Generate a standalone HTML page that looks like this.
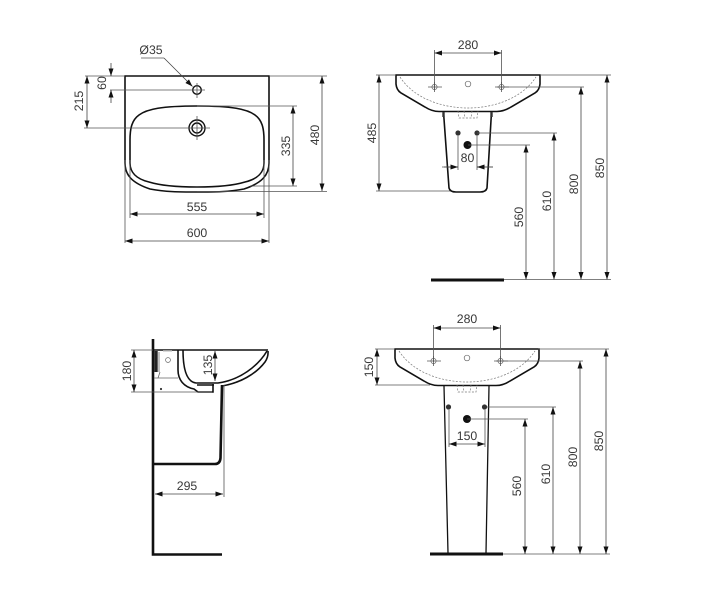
<!DOCTYPE html>
<html>
<head>
<meta charset="utf-8">
<style>
html,body{margin:0;padding:0;background:#fff;width:721px;height:600px;overflow:hidden}
svg{display:block;filter:blur(.3px)}
text{font-family:"Liberation Sans",sans-serif;font-size:12.3px;fill:#3a3a3a;text-anchor:middle;text-rendering:geometricPrecision}
.t{fill:none;stroke:#555;stroke-width:.8}
.d{fill:none;stroke:#444;stroke-width:.8;marker-start:url(#a);marker-end:url(#a)}
.m{fill:none;stroke:#444;stroke-width:.8;marker-end:url(#e)}
.o{fill:none;stroke:#111;stroke-width:1.6}
.h{fill:none;stroke:#111;stroke-width:2.6}
.s{fill:none;stroke:#777;stroke-width:.7;stroke-dasharray:2 1.5}
.c{fill:#333}
</style>
</head>
<body>
<svg width="721" height="600" viewBox="0 0 721 600" xmlns="http://www.w3.org/2000/svg">
<defs>
<marker id="a" markerUnits="userSpaceOnUse" markerWidth="9" markerHeight="7" refX="7.500" refY="3.500" orient="auto-start-reverse"><path d="M0 1L7.500 3.500L0 6Z" fill="#111"/></marker>
<marker id="e" markerUnits="userSpaceOnUse" markerWidth="9" markerHeight="7" refX="7.500" refY="3.500" orient="auto"><path d="M0 1L7.500 3.500L0 6Z" fill="#111"/></marker>
<g id="basin">
<path class="o" d="M396 75H540V84Q539.500 90 535 93L511 107Q504 111.500 497 111.500H439Q432 111.500 425 107L401 93Q396.500 90 396 84Z"/>
<path class="s" d="M400 77C415 100 445 108 468 108C491 108 521 100 536 77"/>
<path class="s" d="M458 111L459 118H477L478 111M464 111L465 118M472 111L471 118"/>
<circle cx="468" cy="84" r="2.800" fill="none" stroke="#666" stroke-width=".7"/>
<circle cx="434.500" cy="87" r="2.600" fill="none" stroke="#666" stroke-width=".7"/>
<circle cx="501.500" cy="87" r="2.600" fill="none" stroke="#666" stroke-width=".7"/>
<path class="t" d="M428 87H442M495 87H509M434.500 82V92M501.500 82V92"/>
</g>
</defs>

<!-- Top view -->
<path class="o" d="M125 76H269V163C269 175 262 183 244 189C229 192 214 192 197 192C180 192 165 192 150 189C132 183 125 175 125 163Z"/>
<path class="o" stroke-width="1.300" d="M197 106C232 106 247 109 255 115C262 120 264 128 264 140V163C264 172 258 179 245 182C232 186 215 187 197 187C179 187 162 186 149 182C136 179 130 172 130 163V140C130 128 132 120 139 115C147 109 162 106 197 106Z"/>
<circle cx="197" cy="90" r="4.300" fill="#fff" stroke="#111" stroke-width="1.400"/>
<circle cx="197" cy="128" r="8" fill="none" stroke="#111" stroke-width="1.400"/>
<circle cx="197" cy="128" r="5" fill="none" stroke="#111" stroke-width="1.400"/>
<path class="t" d="M85 76H125M110 90H205M197 83V98M84 128H210M197 116V140M197 106H297M250 186H297M269 76H327M197 191.500H327M130 160V218M264 160V218M125 160V243M269 160V243M141 58H164"/>
<path class="m" d="M164 58L192.500 86.500"/>
<path class="m" d="M111 63V76"/>
<path class="m" d="M111 103V90"/>
<path class="d" d="M87 76V128"/>
<path class="d" d="M293 106V186"/>
<path class="d" d="M322 76V191"/>
<path class="d" d="M130 214H264"/>
<path class="d" d="M125 241H269"/>
<text x="151" y="54">Ø35</text>
<text x="197" y="211">555</text>
<text x="197" y="237">600</text>
<text transform="translate(106,83) rotate(-90)">60</text>
<text transform="translate(83,101) rotate(-90)">215</text>
<text transform="translate(290,146) rotate(-90)">335</text>
<text transform="translate(319,135) rotate(-90)">480</text>

<!-- Front, semi-pedestal -->
<use href="#basin"/>
<path class="o" d="M443.500 112L449 188Q450 192 456 192H480Q486 192 487 188L491.500 112"/>
<path d="M443.500 112V117M491.500 112V117" stroke="#333" stroke-width="2.400" fill="none"/>
<circle class="c" cx="458" cy="133" r="2.600"/><circle class="c" cx="477" cy="133" r="2.600"/><circle fill="#111" cx="467.500" cy="145" r="4"/>
<path class="t" d="M434.500 50V90M501.500 50V90M376 75H396M376 191H450M540 75H611M458 136V170M477 136V170M442 167H458M477 167H493M468 145H530M477 133H557M497 87H584"/>
<path class="d" d="M434.500 53H501.500"/>
<path class="d" d="M379 75V191"/>
<path class="d" d="M526 145V279.500"/>
<path class="d" d="M554 133V279.500"/>
<path class="d" d="M581 87V279.500"/>
<path class="d" d="M607 75V279.500"/>
<path class="m" d="M444 167H458"/>
<path class="m" d="M493 167H477"/>
<path d="M431 280H504" stroke="#111" stroke-width="3" fill="none"/>
<path class="t" d="M504 279.500H611"/>
<text x="468" y="49">280</text>
<text x="467.500" y="162">80</text>
<text transform="translate(376,133) rotate(-90)">485</text>
<text transform="translate(523,217) rotate(-90)">560</text>
<text transform="translate(551,201) rotate(-90)">610</text>
<text transform="translate(578,184) rotate(-90)">800</text>
<text transform="translate(604,168) rotate(-90)">850</text>

<!-- Side view -->
<path class="h" d="M153 339V554.500H222"/>
<path class="h" d="M153 464H215Q220 464 220.500 458L222 385"/>
<path class="o" stroke-width="2" d="M153 350H268"/>
<path class="o" stroke-width="2.200" d="M268 351Q268.500 357 265 362C256 374 240 383 222 386"/>
<path class="o" stroke-width="1.800" d="M267 351C258 366 240 380 218 383H196C188 382 183 372 183 350"/>
<path class="o" stroke-width="2.600" d="M178 350V370C178 380 184 387 194 389L198 392H213V384"/>
<path class="o" stroke-width="1.600" d="M197 385H214"/>
<path d="M156 351V372" stroke="#222" stroke-width="3.400" fill="none"/>
<path d="M154 378H178M160 372L158 378M159 352V372" fill="none" stroke="#666" stroke-width=".8"/>
<path d="M163 351H172" fill="none" stroke="#ccc" stroke-width="1.500"/>
<circle cx="168" cy="360" r="2.400" fill="none" stroke="#666" stroke-width=".7"/>
<circle cx="161" cy="389" r="1.100" fill="#333"/>
<path class="t" d="M131 350H153M131 392H212M224 385V497"/>
<path class="d" d="M134 350V392"/>
<path class="d" d="M215 351V381"/>
<path class="d" d="M155 494H223"/>
<text x="187" y="490">295</text>
<text transform="translate(131,371) rotate(-90)">180</text>
<text transform="translate(212,365) rotate(-90)">135</text>

<!-- Front, full pedestal -->
<use href="#basin" transform="translate(-1,274)"/>
<path d="M444 386L448 553M489 386L486 553" fill="none" stroke="#111" stroke-width="1.300"/>
<circle class="c" cx="448.500" cy="407" r="2.600"/><circle class="c" cx="484.500" cy="407" r="2.600"/><circle fill="#111" cx="467" cy="419" r="4"/>
<path d="M430 554H503" stroke="#111" stroke-width="3" fill="none"/>
<path class="t" d="M433.500 325V362M500.500 325V362M375 349H395M375 385H430M538 349H609M449 410V447M485 410V447M467 419H528M487 407H556M496 361H583M503 554H610"/>
<path class="d" d="M433.500 328H500.500"/>
<path class="d" d="M377 349V385"/>
<path class="d" d="M449 444H485"/>
<path class="d" d="M525 419V554"/>
<path class="d" d="M553 407V554"/>
<path class="d" d="M580 361V554"/>
<path class="d" d="M606 349V554"/>
<text x="467" y="323">280</text>
<text x="467" y="440">150</text>
<text transform="translate(373,367) rotate(-90)">150</text>
<text transform="translate(521,486) rotate(-90)">560</text>
<text transform="translate(550,474) rotate(-90)">610</text>
<text transform="translate(577,457) rotate(-90)">800</text>
<text transform="translate(603,441) rotate(-90)">850</text>
</svg>
</body>
</html>
